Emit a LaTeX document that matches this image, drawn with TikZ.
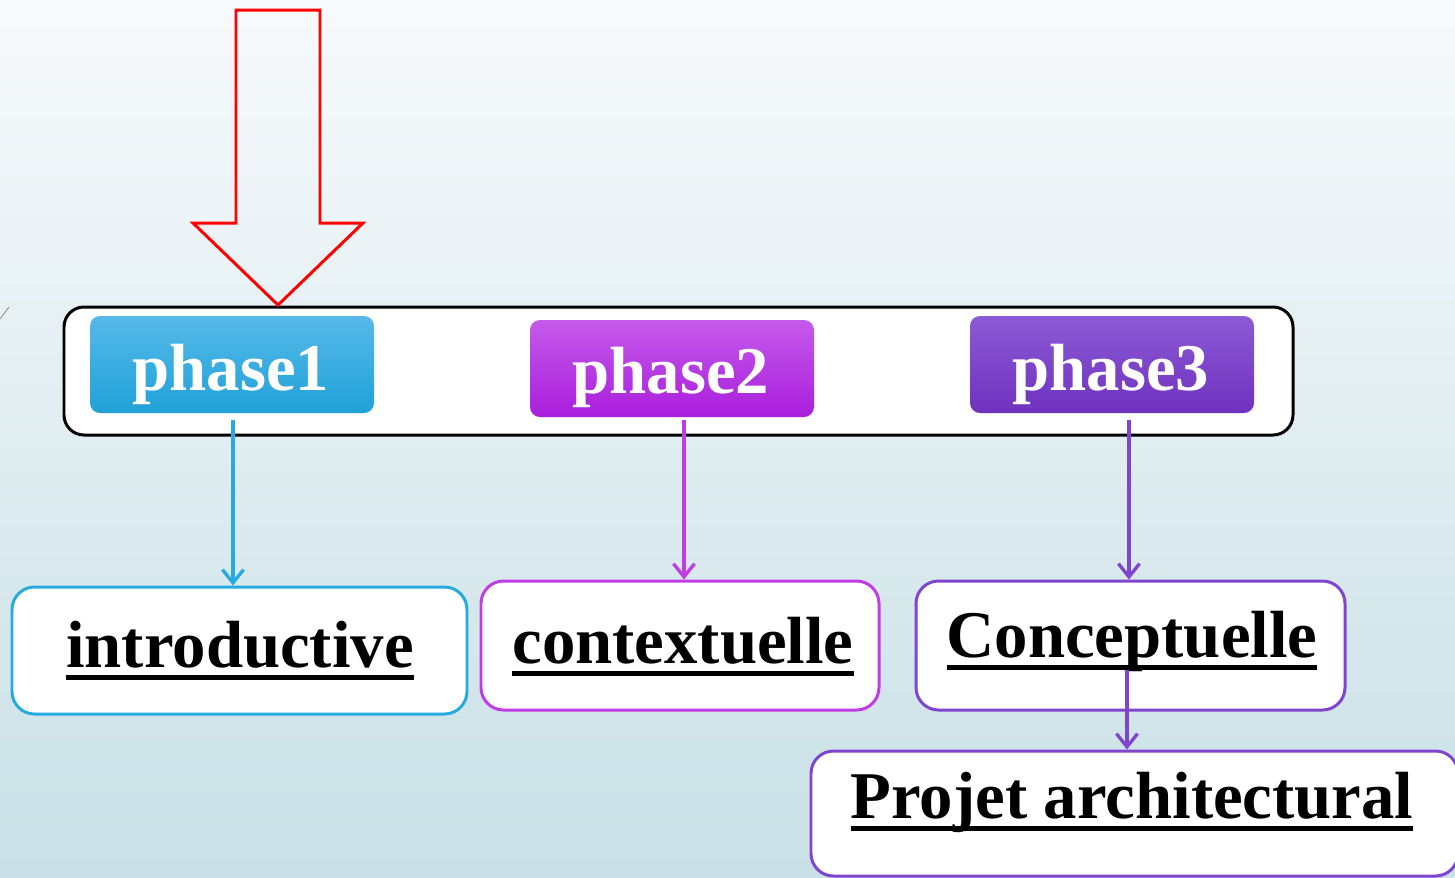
\documentclass[tikz,border=0pt]{standalone}
\usepackage{fontspec}
\setmainfont{Liberation Serif}
\usetikzlibrary{arrows.meta,fit,calc}
\definecolor{bgtop}{HTML}{F8FAFC}
\definecolor{bgbot}{HTML}{C8E0E6}
\definecolor{ponetop}{HTML}{56B9E9}
\definecolor{ponebot}{HTML}{20A1D8}
\definecolor{ptwotop}{HTML}{C55AEA}
\definecolor{ptwobot}{HTML}{A91EDC}
\definecolor{pthreetop}{HTML}{8C5AD6}
\definecolor{pthreebot}{HTML}{6F32BF}
\definecolor{cone}{HTML}{27AAE0}
\definecolor{ctwo}{HTML}{C03CE6}
\definecolor{cthree}{HTML}{8045CF}
\newsavebox\ulbox
\newcommand\myul[1]{\sbox\ulbox{#1}\rlap{\vrule height -0.12em depth 0.2em width \wd\ulbox}\usebox\ulbox}
\tikzset{
  phasebox/.style={inner sep=0pt, rounded corners=0.2cm},
  whitebox/.style={inner sep=0pt, draw, fill=white, rounded corners=0.45cm, line width=1.7pt},
  ptext/.style={anchor=base, text=white, font=\fontsize{38}{41}\selectfont\bfseries, inner sep=0pt},
  btext/.style={anchor=base, text=black, font=\fontsize{38}{41}\selectfont\bfseries, inner sep=0pt},
  conn/.style={line width=1.9pt, -{Straight Barb[length=7.5pt,width=12pt]}},
}
\begin{document}
\begin{tikzpicture}[x=0.02cm,y=-0.02cm]
\useasboundingbox (0,0) rectangle (1455,877);
\fill[top color=bgtop, bottom color=bgbot] (0,0) rectangle (1455,877);
\draw[gray, line width=0.4pt] (0,319) -- (9,307);
% big container
\node[fit={(64,307) (1293,435)}, inner sep=0pt, draw=black, fill=white, line width=1.7pt, rounded corners=0.4cm] (cont) {};
% red arrow
\draw[red, line width=1.7pt, line join=miter] (236,10) -- (320,10) -- (320,223) -- (363,223) -- (278,305) -- (193,223) -- (236,223) -- cycle;
% phases
\node[phasebox, fit={(90,316) (374,413)}, top color=ponetop, bottom color=ponebot] (p1) {};
\node[phasebox, fit={(530,320) (814,417)}, top color=ptwotop, bottom color=ptwobot] (p2) {};
\node[phasebox, fit={(970,316) (1254,413)}, top color=pthreetop, bottom color=pthreebot] (p3) {};
\node[ptext] (t1) at (231,390) {phase1};
\node[ptext] (t2) at (671,393) {phase2};
\node[ptext] (t3) at (1111,390) {phase3};
% white boxes
\node[whitebox, draw=cone, fit={(12,587) (467,714)}] (intro) {};
\node[whitebox, draw=ctwo, fit={(481,581) (879,710)}] (ctx) {};
\node[whitebox, draw=cthree, fit={(916,581) (1345,710)}] (cpt) {};
\node[whitebox, draw=cthree, fit={(811,751) (1458,876)}] (proj) {};
\node[btext] (ti) at (240,667) {\myul{introductive}};
\node[btext] (tc) at (683,663) {\myul{contextuelle}};
\node[btext] (tk) at (1132,657) {\myul{Conceptuelle}};
\node[btext] (tp) at (1132,818) {\myul{Projet architectural}};
% connectors
\coordinate (a1) at (233,420);
\coordinate (a2) at (684,420);
\coordinate (a3) at (1129,420);
\coordinate (a4) at (1127,670);
\draw[conn, cone] (a1) -- (a1 |- intro.north);
\draw[conn, ctwo] (a2) -- (a2 |- ctx.north);
\draw[conn, cthree] (a3) -- (a3 |- cpt.north);
\draw[conn, cthree] (a4) -- (a4 |- proj.north);
\end{tikzpicture}
\end{document}
